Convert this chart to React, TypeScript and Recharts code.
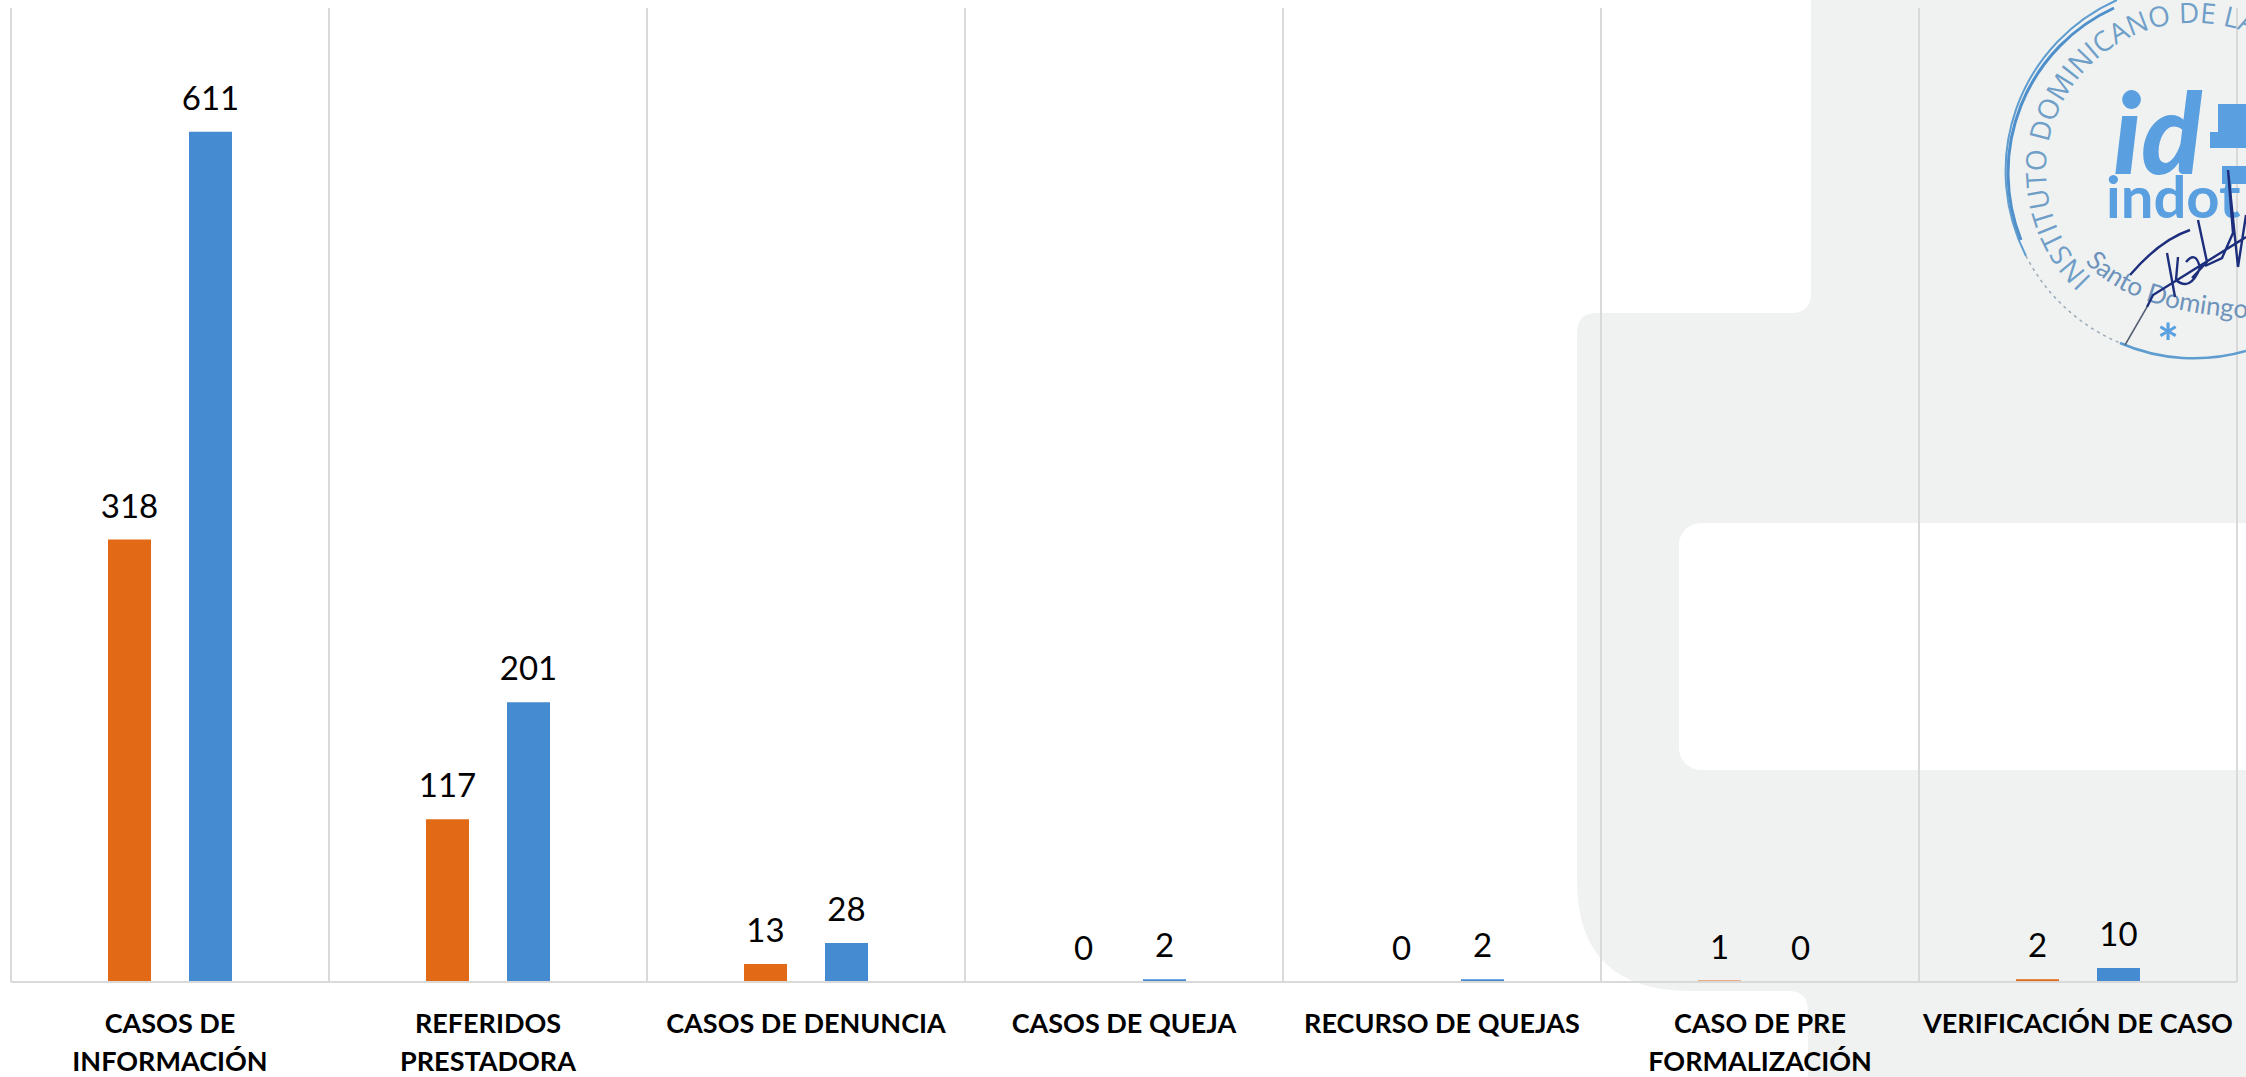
import React from 'react'
import { BarChart, Bar, XAxis, YAxis, CartesianGrid, LabelList } from 'recharts'

const categories = [
  'CASOS DE|INFORMACIÓN',
  'REFERIDOS|PRESTADORA',
  'CASOS DE DENUNCIA',
  'CASOS DE QUEJA',
  'RECURSO DE QUEJAS',
  'CASO DE PRE|FORMALIZACIÓN',
  'VERIFICACIÓN DE CASO',
]
const orangeValues = [318, 117, 13, 0, 0, 1, 2]
const blueValues = [611, 201, 28, 2, 2, 0, 10]

const rows = categories.map((name, i) => ({ name, orange: orangeValues[i], blue: blueValues[i] }))

const FONT = 'Lato, Carlito, "Open Sans", sans-serif'

// Category labels keep the manual line breaks of the original
const CategoryTick = ({ x, y, payload }: any) => {
  const lines = String(payload.value).split('|')
  return (
    <text x={x} textAnchor="middle" fontFamily={FONT} fontWeight={700} fontSize={27} fill="#000">
      {lines.map((line, i) => (
        <tspan key={line} x={x} y={y + 43 + i * 38}>
          {line}
        </tspan>
      ))}
    </text>
  )
}

const ValueLabel = ({ x, y, width, value }: any) => (
  <text x={x + width / 2} y={y - 22} textAnchor="middle" fontFamily={FONT} fontSize={33} fill="#000">
    {value}
  </text>
)

// Letterhead shapes that sit behind the chart
const Backdrop = () => (
  <svg width={2246} height={1077} style={{ position: 'absolute', left: 0, top: 0 }}>
    <path
      d="M1811 0 L2246 0 L2246 1077 L1808 1077 L1808 1011 Q1808 991 1788 991 L1690 991 Q1577 991 1577 880 L1577 333 Q1577 313 1597 313 L1791 313 Q1811 313 1811 293 Z"
      fill="#f0f2f1"
    />
    <rect x={1679} y={523} width={620} height={247} rx={22} fill="#fff" />
  </svg>
)

// Institution stamp in the top right corner
const Stamp = () => (
  <svg width={2246} height={1077} style={{ position: 'absolute', left: 0, top: 0, pointerEvents: 'none' }}>
    <defs>
      <path id="stampRing" d="M2092 278 A148 148 0 1 1 2342 171" />
      <path id="stampCity" d="M2085 262 Q2130 312 2246 318" />
    </defs>
    <path d="M2026 256 A187 187 0 0 1 2117 0" fill="none" stroke="#5f9ccf" strokeWidth={2} />
    <path d="M2021 240 A181 181 0 0 1 2114 8" fill="none" stroke="#4f90cb" strokeWidth={3} />
    <path d="M2026 256 A187 187 0 0 0 2120 343" fill="none" stroke="#9aa9b5" strokeWidth={1.5} strokeDasharray="3 4" />
    <path d="M2120 343 A187 187 0 0 0 2246 351" fill="none" stroke="#5f9ccf" strokeWidth={2.5} />
    <text fontFamily="'Open Sans', sans-serif" fontSize={28} fill="#6f9fc8">
      <textPath href="#stampRing">INSTITUTO DOMINICANO DE LAS</textPath>
    </text>
    <text x={2113} y={174} fontFamily="Lato, sans-serif" fontStyle="italic" fontWeight={900} fontSize={112} fill="#5a9fe0">id</text>
    <rect x={2218} y={104} width={28} height={42} fill="#5a9fe0" />
    <rect x={2210} y={132} width={36} height={16} fill="#5a9fe0" />
    <rect x={2222} y={166} width={24} height={18} fill="#5a9fe0" />
    <text x={2106} y={218} fontFamily="Lato, sans-serif" fontWeight={700} fontSize={58} fill="#5a9fe0">indot</text>
    <text fontFamily="Lato, sans-serif" fontSize={26} fill="#6d93bb">
      <textPath href="#stampCity">Santo Domingo</textPath>
    </text>
    <text x={2157} y={362} fontFamily="Lato, sans-serif" fontWeight={700} fontSize={52} fill="#5a9fe0">*</text>
    <path d="M2125 345 L2147 307" fill="none" stroke="#555f73" strokeWidth={1.5} />
    <path
      d="M2130 275 Q2160 240 2190 230 M2147 307 L2153 295 L2190 272 L2246 237 M2167 253 L2175 297 M2178 257 L2176 280 Q2190 292 2200 268 Q2196 250 2186 262 M2198 220 L2207 262 L2192 278 M2228 170 L2238 267 M2228 170 L2233 233 L2222 258 L2205 266 M2238 267 L2246 215"
      fill="none"
      stroke="#1d2f7c"
      strokeWidth={2.4}
    />
  </svg>
)

export default function App() {
  return (
    <div style={{ position: 'absolute', left: 0, top: 0, width: 2246, height: 1077, overflow: 'hidden', background: '#fff' }}>
      <Backdrop />
      <div style={{ position: 'absolute', left: 0, top: 0 }}>
        <BarChart
          width={2246}
          height={1077}
          data={rows}
          margin={{ top: 8, right: 9, bottom: 0, left: 11 }}
          barSize={43}
          barGap={38}
        >
          <CartesianGrid
            horizontal={false}
            stroke="#d9d9d9"
            strokeWidth={2}
            verticalCoordinatesGenerator={({ offset }: any) =>
              [...categories.keys(), categories.length].map((i) => offset.left + (i * offset.width) / categories.length)
            }
          />
          <XAxis
            dataKey="name"
            interval={0}
            height={95}
            stroke="#d9d9d9"
            strokeWidth={2}
            tickLine={false}
            tick={<CategoryTick />}
          />
          <YAxis hide domain={[0, 700]} />
          {/* tiny minPointSize: without it the zero bars get no label */}
          <Bar dataKey="orange" fill="#e26a16" minPointSize={0.01} isAnimationActive={false}>
            <LabelList dataKey="orange" content={<ValueLabel />} />
          </Bar>
          <Bar dataKey="blue" fill="#448bd1" minPointSize={0.01} isAnimationActive={false}>
            <LabelList dataKey="blue" content={<ValueLabel />} />
          </Bar>
        </BarChart>
      </div>
      <Stamp />
    </div>
  )
}
